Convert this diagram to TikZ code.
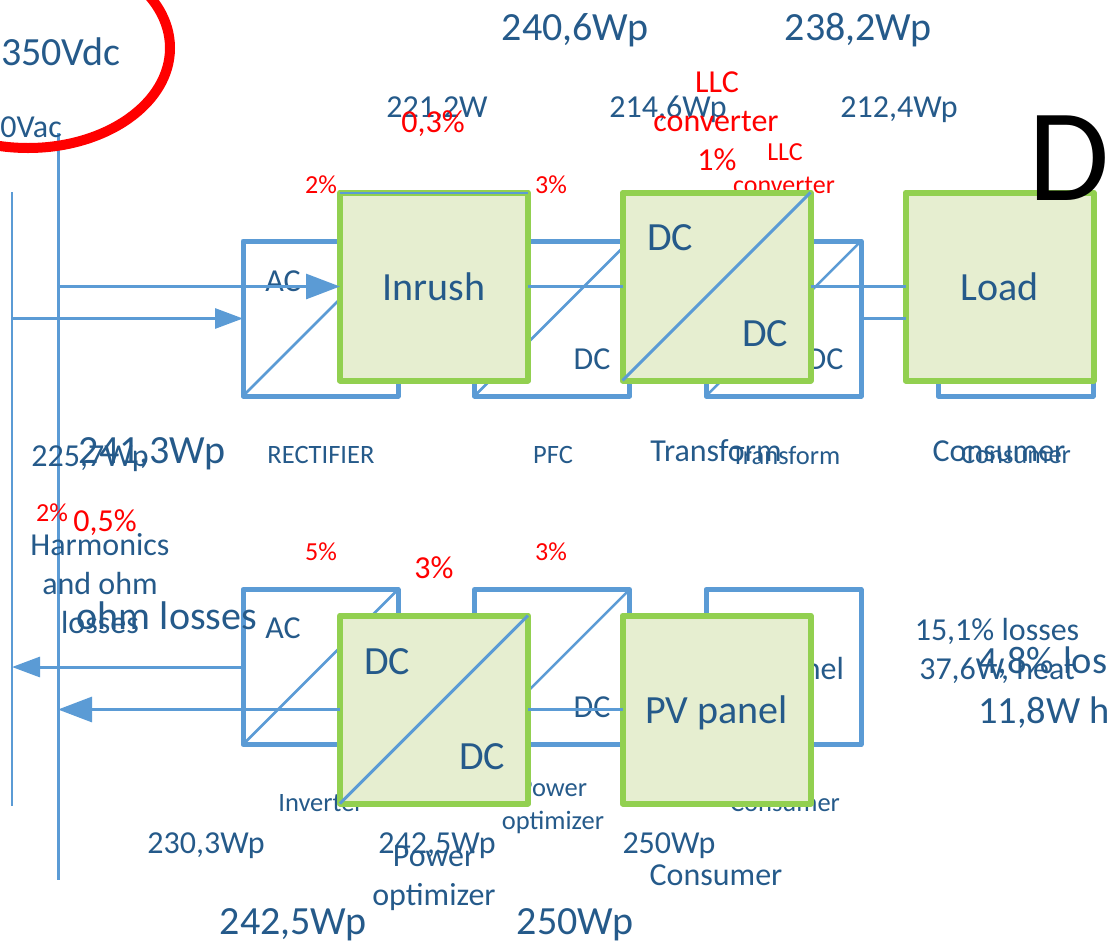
\documentclass[tikz,border=0pt]{standalone}
\usepackage{fontspec}
\setmainfont{Carlito}
\definecolor{wireBlue}{RGB}{91,155,213}
\definecolor{labelBlue}{RGB}{37,90,138}
\definecolor{panelGreen}{RGB}{146,208,80}
\definecolor{panelFill}{RGB}{230,238,208}
\usetikzlibrary{arrows.meta,positioning,calc}
\tikzset{
  lblbig/.style={text=labelBlue, inner sep=0pt, text depth=0pt, font=\fontsize{40}{40}\selectfont},
  lblmid/.style={text=labelBlue, inner sep=0pt, text depth=0pt, font=\fontsize{32}{32}\selectfont},
  lblsmall/.style={text=labelBlue, inner sep=0pt, text depth=0pt, font=\fontsize{26.5}{26.5}\selectfont},
  redmid/.style={text=red, inner sep=0pt, text depth=0pt, font=\fontsize{32}{32}\selectfont},
  redsmall/.style={text=red, inner sep=0pt, text depth=0pt, font=\fontsize{26}{26}\selectfont},
  convbox/.style={draw=wireBlue, line width=5pt, line join=round, minimum width=155pt,
    minimum height=155pt, inner sep=0pt, outer sep=0pt},
  greenbox/.style={draw=panelGreen, fill=panelFill, line width=6pt, line join=round,
    minimum width=188pt, minimum height=188pt, inner sep=0pt, outer sep=0pt,
    text depth=0pt, text=labelBlue, font=\fontsize{40}{40}\selectfont},
  greenlbl/.style={text=labelBlue, inner sep=0pt, font=\fontsize{40}{40}\selectfont},
  wire/.style={draw=wireBlue, line width=3pt},
  bigtip/.style={-{Triangle[length=34pt,width=25pt]}},
  smalltip/.style={-{Triangle[length=28pt,width=20pt]}}
}
\begin{document}
\begin{tikzpicture}[x=1pt,y=-1pt]
        \useasboundingbox (0,0) rectangle (1110,948);
        % Buses
        \coordinate (acTop) at (12,192);
        \coordinate (acEnd) at (12,806);
        \coordinate (dcTop) at (58,133);
        \coordinate (dcEnd) at (58,880);
        \draw[wire, line width=2pt] (acTop) -- (acEnd);
        \draw[wire] (dcTop) -- (dcEnd);
        % Upper row, plain boxes
        \node[convbox] (rect) at (320.5,318.5) {};
        \node[convbox] (pfc) at (552,318.5) {};
        \node[convbox] (trafo) at (783.5,318.5) {};
        \node[convbox] (cons) at (1015.5,318.5) {};
        \draw[wire, line width=2.5pt] (rect.south west) -- (rect.north east);
        \draw[wire, line width=2.5pt] (pfc.south west) -- (pfc.north east);
        \draw[wire, line width=2.5pt] (trafo.south west) -- (trafo.north east);
        \node[lblmid] (acRect) at (283,281) {AC};
        \node[lblmid] (dcPfcA) at (513,281) {DC};
        \node[lblmid] (dcPfcB) at (592,359) {DC};
        \node[lblmid] (dcTrafo) at (825,359) {DC};
        % Lower row, plain boxes
        \node[convbox] (inv) at (320.5,667) {};
        \node[convbox] (popt) at (552,667) {};
        \node[convbox] (pvbox) at (783.5,667) {};
        \draw[wire, line width=2.5pt] (inv.south west) -- (inv.north east);
        \draw[wire, line width=2.5pt] (popt.south west) -- (popt.north east);
        \node[lblmid] (acInv) at (283,628) {AC};
        \node[lblmid] (dcPoptA) at (513,628) {DC};
        \node[lblmid] (dcPoptB) at (592,707) {DC};
        \node[lblmid] (pvSmall) at (787,668) {PV panel};
        % Captions under the plain boxes
        \node[lblsmall] (capRect) at (321,455) {RECTIFIER};
        \node[lblsmall] (capPfc) at (553,455) {PFC};
        \node[lblsmall] (capTrafo) at (786,455) {Transform};
        \node[lblsmall] (capCons) at (1016,455) {Consumer};
        \node[lblsmall] (capInv) at (321,803) {Inverter};
        \node[lblsmall] (capPowA) at (553,788) {Power};
        \node[lblsmall] (capPowB) at (553,820) {optimizer};
        \node[lblsmall] (capConsB) at (785,803) {Consumer};
        \node[redsmall] (llcSmall) at (785,152) {LLC};
        \node[redsmall] (convSmall) at (784,185) {converter};
        % Green boxes
        \node[greenbox] (inrush) at (434,286.5) {Inrush};
        \node[greenbox] (dcdc) at (716.5,286.5) {};
        \node[greenbox] (load) at (999.5,286.5) {Load};
        \node[greenbox] (opt) at (434,709.5) {};
        \node[greenbox] (pv) at (716.5,709.5) {PV panel};
        \draw[wire, line width=2pt] (inrush.north west) -- (inrush.north east);
        \draw[wire] (dcdc.south west) -- (dcdc.north east);
        \draw[wire] (opt.south west) -- (opt.north east);
        \node[greenlbl] (dcA) at (670,238) {DC};
        \node[greenlbl] (dcB) at (765,334) {DC};
        \node[greenlbl] (dcC) at (387,662) {DC};
        \node[greenlbl] (dcD) at (482,757) {DC};
        % Connectors
        \draw[wire, bigtip] (dcTop |- inrush.west) -- (inrush.west);
        \draw[wire, smalltip] (acTop |- rect.west) -- (rect.west);
        \draw[wire] (inrush.east) -- (dcdc.west);
        \draw[wire] (dcdc.east) -- (load.west);
        \draw[wire] (trafo.east) -- (load.west |- trafo.east);
        \draw[wire, smalltip] (inv.west) -- (acTop |- inv.west);
        \draw[wire, bigtip] (opt.west) -- (dcTop |- opt.west);
        \draw[wire] (pv.west) -- (opt.east);
        % Red ring
        \coordinate (ringMark) at (28,48);
        \draw[red, line width=10pt] (ringMark) ellipse [x radius=142, y radius=100];
        % Power figures, top
        \node[lblbig] (vdc) at (61,52) {350Vdc};
        \node[lblmid, anchor=east] (vac) at (62,127) {0Vac};
        \node[lblbig] (pInA) at (575,27) {240,6Wp};
        \node[lblbig] (pInB) at (858,27) {238,2Wp};
        \node[lblmid] (pOutA) at (437,107) {221,2W};
        \node[lblmid] (pOutB) at (668,107) {214,6Wp};
        \node[lblmid] (pOutC) at (899,107) {212,4Wp};
        \node[redmid] (lossA) at (433,122) {0,3\%};
        \node[redmid] (llc) at (717,82) {LLC};
        \node[redmid] (conv) at (716,121) {converter};
        \node[redmid] (lossB) at (717,160) {1\%};
        \node[redsmall] (lossC) at (321,185) {2\%};
        \node[redsmall] (lossD) at (551,185) {3\%};
        \node[font=\fontsize{132}{132}\selectfont, inner sep=0pt] (bigD) at (1069,158) {D};
        % Middle labels
        \node[lblmid] (pAcA) at (90,456) {225,7Wp};
        \node[lblbig] (pAcB) at (152,451) {241,3Wp};
        \node[lblmid] (trafoBig) at (716,451) {Transform};
        \node[lblmid] (consBig) at (999,451) {Consumer};
        \node[redsmall] (lossE) at (52,513) {2\%};
        \node[redmid] (lossF) at (105,521) {0,5\%};
        \node[lblmid] (harmA) at (100,544) {Harmonics};
        \node[lblmid] (harmB) at (100,583) {and ohm};
        \node[lblmid] (harmC) at (100,622) {losses};
        \node[lblbig] (ohm) at (167,616) {ohm losses};
        \node[redsmall] (lossG) at (321,552) {5\%};
        \node[redmid] (lossH) at (434,568) {3\%};
        \node[redsmall] (lossI) at (551,552) {3\%};
        % Lower labels
        \node[lblmid] (pLowA) at (206,843) {230,3Wp};
        \node[lblmid] (pLowB) at (437,843) {242,5Wp};
        \node[lblmid] (pLowC) at (669,843) {250Wp};
        \node[lblmid] (powA) at (434,856) {Power};
        \node[lblmid] (powB) at (434,894) {optimizer};
        \node[lblmid] (consC) at (716,875) {Consumer};
        \node[lblbig] (pBotA) at (293,922) {242,5Wp};
        \node[lblbig] (pBotB) at (575,922) {250Wp};
        % Totals
        \node[lblmid] (totA) at (997,629) {15,1\% losses};
        \node[lblmid] (totB) at (997,668) {37,6W, heat};
        \node[lblbig, anchor=west, font=\fontsize{38.5}{38.5}\selectfont] (totC) at (978,660) {4,8\% los};
        \node[lblbig, anchor=west, font=\fontsize{38.5}{38.5}\selectfont] (totD) at (978,710) {11,8W h};
\end{tikzpicture}
\end{document}
